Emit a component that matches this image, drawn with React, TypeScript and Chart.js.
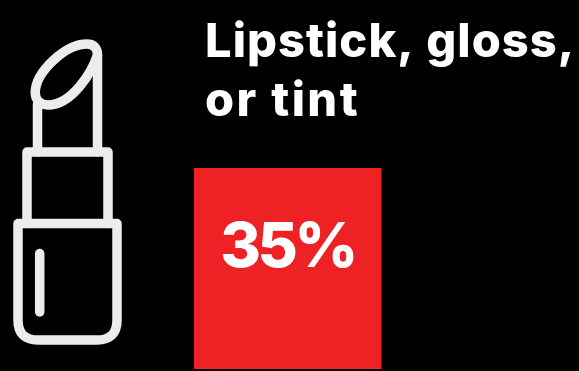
import React, { useEffect, useRef } from "react";
import { Chart, registerables } from "chart.js";

Chart.register(...registerables);

const categories = ["Lipstick, gloss, or tint"];
const shareValues = [35];
const titleLines = ["Lipstick, gloss,", "or tint"];
const AXIS_MAX = 72;

const WIDTH = 579;
const HEIGHT = 371;
const FONT = "Inter, 'Open Sans', sans-serif";

const lipstickIcon = {
  id: "lipstickIcon",
  afterDraw(chart: any) {
    const ctx = chart.ctx;
    ctx.save();
    ctx.strokeStyle = "#ececec";
    ctx.lineWidth = 9.5;
    ctx.lineJoin = "round";
    ctx.lineCap = "round";

    // Case
    ctx.beginPath();
    ctx.moveTo(18, 223.5);
    ctx.lineTo(117, 223.5);
    ctx.lineTo(117, 320);
    ctx.quadraticCurveTo(117, 340, 97, 340);
    ctx.lineTo(38, 340);
    ctx.quadraticCurveTo(18, 340, 18, 320);
    ctx.closePath();
    ctx.stroke();

    // Collar
    ctx.beginPath();
    ctx.moveTo(27, 223.5);
    ctx.lineTo(27, 152);
    ctx.lineTo(108, 152);
    ctx.lineTo(108, 223.5);
    ctx.stroke();

    // Bullet sides
    ctx.beginPath();
    ctx.moveTo(37.5, 152);
    ctx.lineTo(37.5, 104);
    ctx.moveTo(97.5, 152);
    ctx.lineTo(97.5, 55);
    ctx.stroke();

    // Slanted tip
    ctx.beginPath();
    ctx.moveTo(35.2, 92);
    ctx.bezierCurveTo(36, 72, 65, 44, 87, 44);
    ctx.bezierCurveTo(94, 44, 97.5, 48, 97.5, 55);
    ctx.bezierCurveTo(92, 72, 72, 105, 48, 105);
    ctx.bezierCurveTo(40, 105, 35.2, 100, 35.2, 92);
    ctx.closePath();
    ctx.stroke();

    // Highlight
    ctx.beginPath();
    ctx.moveTo(39.7, 253.5);
    ctx.lineTo(39.7, 312);
    ctx.stroke();
    ctx.restore();
  },
};

const headingAndValue = {
  id: "headingAndValue",
  afterDatasetsDraw(chart: any) {
    const ctx = chart.ctx;
    ctx.save();
    ctx.fillStyle = "#ffffff";
    ctx.textBaseline = "alphabetic";

    ctx.textAlign = "left";
    ctx.font = `800 47px ${FONT}`;
    titleLines.forEach((line, i) => {
      ctx.letterSpacing = i === 0 ? "1.05px" : "2.4px";
      ctx.fillText(line, 205, 57 + i * 59);
    });

    const bar = chart.getDatasetMeta(0).data[0];
    ctx.textAlign = "center";
    ctx.font = `800 62px ${FONT}`;
    ctx.letterSpacing = "-3.4px";
    ctx.fillText(`${shareValues[0]}%`, bar.base + (bar.x - bar.base) / 2, 267);
    ctx.restore();
  },
};

export default function App() {
  const canvasRef = useRef<HTMLCanvasElement>(null);

  useEffect(() => {
    document.body.style.margin = "0";
    document.body.style.background = "#000000";
    const chart = new Chart(canvasRef.current!, {
      type: "bar",
      data: {
        labels: categories,
        datasets: [
          {
            data: shareValues,
            backgroundColor: "#ee2225",
            barPercentage: 1,
            categoryPercentage: 1,
          },
        ],
      },
      options: {
        indexAxis: "y",
        animation: false,
        responsive: false,
        layout: { padding: { left: 194, top: 168, bottom: 2, right: 0 } },
        plugins: { legend: { display: false }, tooltip: { enabled: false } },
        scales: {
          x: { display: false, min: 0, max: AXIS_MAX },
          y: { display: false },
        },
      },
      plugins: [lipstickIcon, headingAndValue],
    });
    return () => chart.destroy();
  }, []);

  return (
    <canvas
      ref={canvasRef}
      width={WIDTH}
      height={HEIGHT}
      style={{ display: "block", width: WIDTH, height: HEIGHT, background: "#000000" }}
    />
  );
}
